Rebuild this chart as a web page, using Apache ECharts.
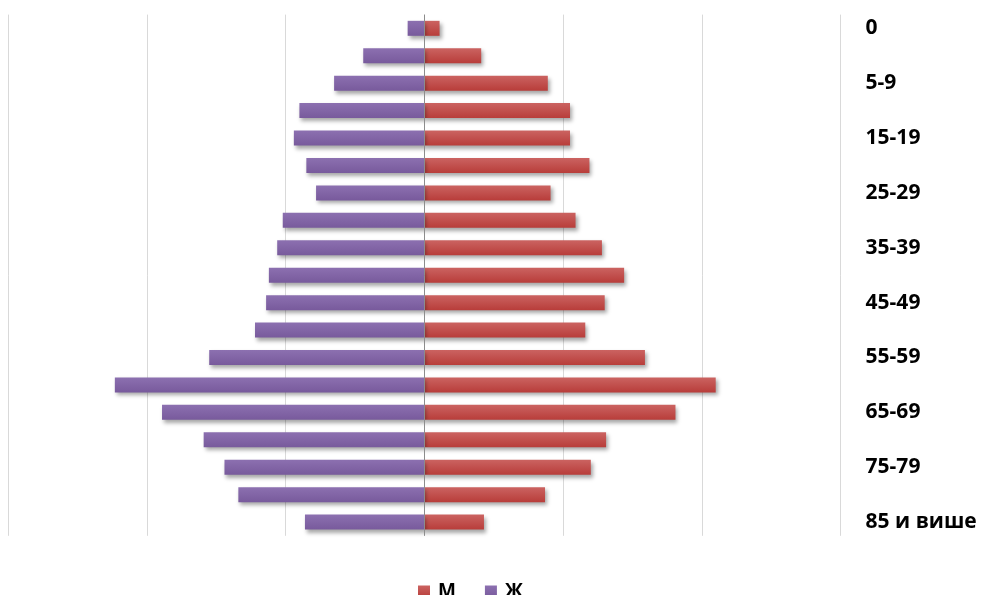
<!DOCTYPE html>
<html>
<head>
<meta charset="utf-8">
<script src="https://cdn.jsdelivr.net/npm/echarts@6/dist/echarts.min.js"></script>
<style>html,body{margin:0;padding:0;background:#fff;}#c{width:982px;height:595px;}</style>
</head>
<body>
<div id="c"></div>
<script>
const categories = ['0','1-4','5-9','10-14','15-19','20-24','25-29','30-34','35-39','40-44','45-49','50-54','55-59','60-64','65-69','70-74','75-79','80-84','85 и више'];
const male = [0.11,0.41,0.89,1.05,1.05,1.19,0.91,1.09,1.28,1.44,1.30,1.16,1.59,2.10,1.81,1.31,1.20,0.87,0.43];
const female = [0.12,0.44,0.65,0.90,0.94,0.85,0.78,1.02,1.06,1.12,1.14,1.22,1.55,2.23,1.89,1.59,1.44,1.34,0.86];

const font = '"Open Sans", "DejaVu Sans", sans-serif';
function grad(a, b) {
  return new echarts.graphic.LinearGradient(0, 0, 0, 1, [{offset: 0, color: a}, {offset: 1, color: b}]);
}
const shadow = {shadowBlur: 4, shadowOffsetX: 2, shadowOffsetY: 3, shadowColor: 'rgba(0,0,0,0.35)'};
const chart = echarts.init(document.getElementById('c'));
chart.setOption({
  animation: false,
  legend: {
    data: ['М', 'Ж'],
    left: 413, top: 577,
    itemWidth: 12, itemHeight: 12, itemGap: 29,
    icon: 'rect',
    textStyle: {fontFamily: font, fontWeight: 'bold', fontSize: 19, color: '#000', padding: [0, 0, 0, 3]}
  },
  grid: {left: 8, right: 141.4, top: 14.6, bottom: 59.2, containLabel: false},
  xAxis: {
    type: 'value', min: -3, max: 3, interval: 1,
    axisLabel: {show: false}, axisLine: {show: false}, axisTick: {show: false},
    splitLine: {show: true, lineStyle: {color: '#d9d9d9', width: 1}}
  },
  yAxis: {
    type: 'category', data: categories, inverse: true, position: 'right',
    axisLine: {show: false}, axisTick: {show: false},
    axisLabel: {interval: 1, margin: 25, fontFamily: font, fontWeight: 'bold', fontSize: 21, color: '#000'}
  },
  series: [
    {
      name: 'М', type: 'bar', stack: 'p', barWidth: 15,
      data: male,
      itemStyle: Object.assign({color: grad('#CB6361', '#B83D3A')}, shadow),
      markLine: {
        silent: true, symbol: 'none', label: {show: false},
        lineStyle: {color: '#8c8c8c', width: 1, type: 'solid'},
        data: [{xAxis: 0}], z: 10
      }
    },
    {
      name: 'Ж', type: 'bar', stack: 'p', barWidth: 15,
      data: female.map(v => -v),
      itemStyle: Object.assign({color: grad('#8C70B0', '#785A9C')}, shadow)
    }
  ]
});
</script>
</body>
</html>
